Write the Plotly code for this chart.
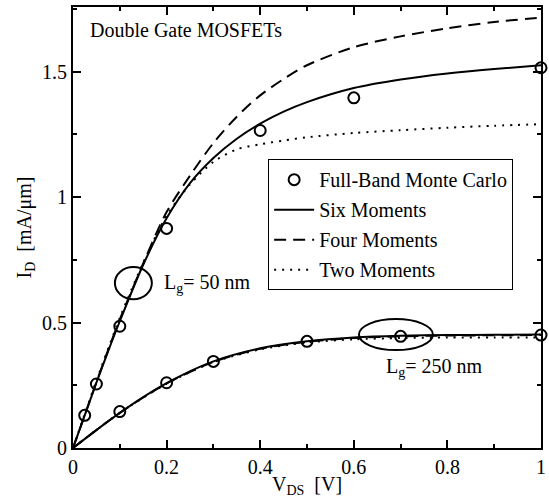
import plotly.graph_objects as go

# Monte Carlo points
mc50_x = [0.025, 0.05, 0.1, 0.2, 0.4, 0.6, 1.0]
mc50_y = [0.13, 0.255, 0.485, 0.875, 1.265, 1.395, 1.515]
mc250_x = [0.1, 0.2, 0.3, 0.5, 0.7, 1.0]
mc250_y = [0.145, 0.26, 0.345, 0.425, 0.445, 0.45]

# Model curves, Lg = 50 nm
v50 = [0.0, 0.025, 0.05, 0.075, 0.1, 0.15, 0.2, 0.25, 0.3, 0.35, 0.4, 0.45, 0.5, 0.6, 0.7, 0.8, 0.9, 1.0]
six50 = [0.0, 0.13, 0.26, 0.385, 0.505, 0.73, 0.915, 1.055, 1.155, 1.232, 1.292, 1.34, 1.378, 1.434, 1.468, 1.492, 1.51, 1.525]
four50 = [0.0, 0.13, 0.262, 0.39, 0.512, 0.735, 0.94, 1.085, 1.215, 1.32, 1.405, 1.47, 1.525, 1.597, 1.64, 1.672, 1.697, 1.715]
two50 = [0.0, 0.135, 0.268, 0.395, 0.518, 0.738, 0.925, 1.05, 1.14, 1.19, 1.21, 1.225, 1.238, 1.255, 1.266, 1.276, 1.284, 1.29]

# Model curves, Lg = 250 nm
v250 = [0.0, 0.1, 0.2, 0.3, 0.4, 0.5, 0.6, 0.7, 0.8, 0.9, 1.0]
six250 = [0.0, 0.14, 0.258, 0.345, 0.397, 0.425, 0.44, 0.447, 0.45, 0.451, 0.452]
four250 = [0.0, 0.14, 0.257, 0.343, 0.395, 0.423, 0.438, 0.445, 0.448, 0.449, 0.45]
two250 = [0.0, 0.14, 0.256, 0.342, 0.393, 0.42, 0.433, 0.438, 0.44, 0.44, 0.44]

# Tick labels
x_ticks = [0, 0.2, 0.4, 0.6, 0.8, 1.0]
x_ticktext = ["0", "0.2", "0.4", "0.6", "0.8", "1"]
y_ticks = [0, 0.5, 1.0, 1.5]
y_ticktext = ["0", "0.5", "1", "1.5"]

FONT = "Liberation Serif"
FS = 20
fig = go.Figure()

def line(x, y, dash, name, show, group):
    fig.add_trace(go.Scatter(x=x, y=y, mode="lines", name=name, showlegend=show, legendgroup=group,
                             line=dict(color="black", width=2, dash=dash, shape="spline", smoothing=0.8)))

fig.add_trace(go.Scatter(x=mc50_x, y=mc50_y, mode="markers", name="Full-Band Monte Carlo",
                         cliponaxis=False, legendgroup="mc",
                         marker=dict(symbol="circle-open", size=11, color="black", line=dict(width=2))))
line(v50, six50, "solid", "Six Moments", True, "six")
line(v50, four50, "12px,7px", "Four Moments", True, "four")
line(v50, two50, "2px,6px", "Two Moments", True, "two")
line(v250, six250, "solid", "Six Moments", False, "six")
line(v250, four250, "12px,7px", "Four Moments", False, "four")
line(v250, two250, "2px,6px", "Two Moments", False, "two")
fig.add_trace(go.Scatter(x=mc250_x, y=mc250_y, mode="markers", showlegend=False, cliponaxis=False,
                         legendgroup="mc",
                         marker=dict(symbol="circle-open", size=11, color="black", line=dict(width=2))))

# ellipses
fig.add_shape(type="circle", xref="x", yref="y", x0=0.129-0.0395, x1=0.129+0.0395,
              y0=0.657-0.064, y1=0.657+0.064, line=dict(color="black", width=2))
fig.add_shape(type="circle", xref="x", yref="y", x0=0.69-0.079, x1=0.69+0.079,
              y0=0.452-0.062, y1=0.452+0.062, line=dict(color="black", width=2))

fig.add_annotation(x=0.032, y=1.665, xref="x", yref="y", text="Double Gate MOSFETs", showarrow=False,
                   xanchor="left", yanchor="middle", font=dict(family=FONT, size=FS, color="black"))
fig.add_annotation(x=0.19, y=0.657, xref="x", yref="y", text="L<sub>g</sub>= 50 nm", showarrow=False,
                   xanchor="left", yanchor="middle", font=dict(family=FONT, size=FS, color="black"))
fig.add_annotation(x=0.665, y=0.32, xref="x", yref="y", text="L<sub>g</sub>= 250 nm", showarrow=False,
                   xanchor="left", yanchor="middle", font=dict(family=FONT, size=FS, color="black"))

# axis titles
fig.add_annotation(x=0.5, y=0, xref="paper", yref="paper", yshift=-37,
                   text="V<sub>DS</sub>\u00a0\u00a0[V]",
                   showarrow=False, xanchor="center", yanchor="middle",
                   font=dict(family=FONT, size=FS, color="black"))
fig.add_annotation(x=0, y=0.5, xref="paper", yref="paper", xshift=-48,
                   text="I<sub>D</sub>\u00a0\u00a0[mA/\u03bcm]", textangle=-90,
                   showarrow=False, xanchor="center", yanchor="middle",
                   font=dict(family=FONT, size=FS, color="black"))

axis_common = dict(showline=True, linecolor="black", linewidth=2, mirror="ticks", ticks="inside",
                   ticklen=8, tickwidth=2, tickcolor="black", showgrid=False, zeroline=False,
                   automargin=False, ticklabeloverflow="allow",
                   tickfont=dict(family=FONT, size=FS, color="black"))

fig.update_xaxes(range=[0, 1], tickvals=x_ticks, ticktext=x_ticktext,
                 minor=dict(ticks="inside", ticklen=4, tickwidth=2, tickcolor="black", dtick=0.1, showgrid=False),
                 **axis_common)
fig.update_yaxes(range=[0, 1.757], tickvals=y_ticks, ticktext=y_ticktext,
                 minor=dict(ticks="inside", ticklen=4, tickwidth=2, tickcolor="black", dtick=0.25, showgrid=False),
                 **axis_common)

fig.update_layout(
    width=549, height=497,
    margin=dict(l=73, r=8, t=7, b=49),
    plot_bgcolor="white", paper_bgcolor="white",
    showlegend=True,
    legend=dict(x=0.417, y=0.655, xanchor="left", yanchor="top",
                bordercolor="black", borderwidth=1, bgcolor="white",
                font=dict(family=FONT, size=FS, color="black"),
                itemwidth=40, tracegroupgap=1, groupclick="toggleitem"),
)

fig.write_html("out.html", config={"displayModeBar": False},
               post_script="document.body.style.margin='0px';document.body.style.overflow='hidden';")
